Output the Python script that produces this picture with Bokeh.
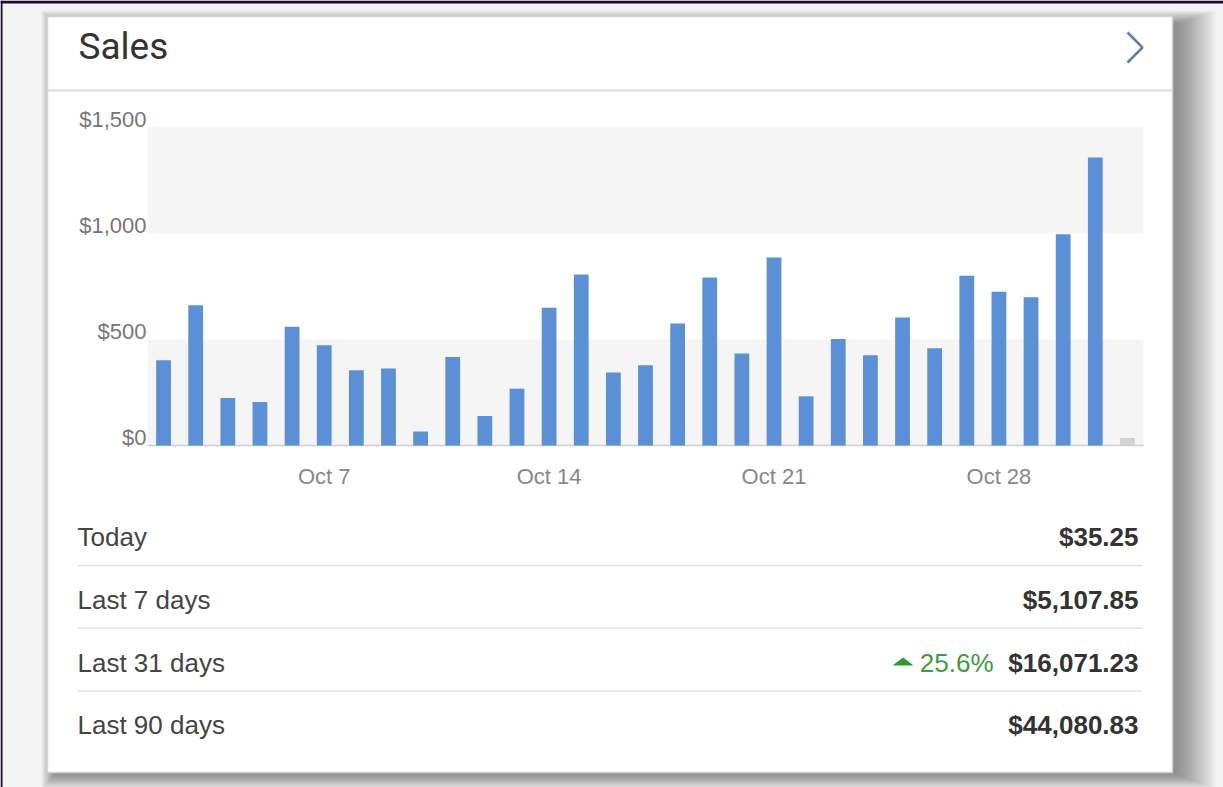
from bokeh.plotting import figure
from bokeh.models import Range1d
from bokeh.core.properties import value
from bokeh.embed import file_html
from bokeh.resources import INLINE

# ---------------- data ----------------
dates = ["Oct 2", "Oct 3", "Oct 4", "Oct 5", "Oct 6", "Oct 7", "Oct 8", "Oct 9", "Oct 10",
         "Oct 11", "Oct 12", "Oct 13", "Oct 14", "Oct 15", "Oct 16", "Oct 17", "Oct 18",
         "Oct 19", "Oct 20", "Oct 21", "Oct 22", "Oct 23", "Oct 24", "Oct 25", "Oct 26",
         "Oct 27", "Oct 28", "Oct 29", "Oct 30", "Oct 31", "Nov 1"]
day_num = [2, 3, 4, 5, 6, 7, 8, 9, 10, 11, 12, 13, 14, 15, 16, 17, 18, 19, 20, 21, 22,
           23, 24, 25, 26, 27, 28, 29, 30, 31, 32]
sales = [402, 662, 224, 205, 560, 473, 355, 363, 66, 418, 139, 268, 650, 807, 344, 379,
         576, 792, 434, 887, 232, 502, 426, 604, 459, 801, 725, 699, 997, 1359, 35.25]

y_ticks = [0, 500, 1000, 1500]
y_tick_labels = ["$0", "$500", "$1,000", "$1,500"]
x_ticks = [7, 14, 21, 28]
x_tick_labels = ["Oct 7", "Oct 14", "Oct 21", "Oct 28"]

title_text = "Sales"
stat_labels = ["Today", "Last 7 days", "Last 31 days", "Last 90 days"]
stat_values = ["$35.25", "$5,107.85", "$16,071.23", "$44,080.83"]
change_text = "25.6%"
change_row = 2

# ---------------- layout (pixels) ----------------
W, H = 1223, 787
PLOT_L, PLOT_R, PLOT_T, PLOT_B = 147, 1143, 127, 445
X0, X1 = 1.5, 32.5          # data extent of plot area
Y0, Y1 = 0, 1500
CARD_L, CARD_R, CARD_T, CARD_B = 47, 1172, 16, 772
ROW0, ROW_STEP = 536.5, 62.8

xs = (PLOT_R - PLOT_L) / (X1 - X0)
ys = (PLOT_B - PLOT_T) / (Y1 - Y0)
x_range = Range1d(X0 - PLOT_L / xs, X1 + (W - PLOT_R) / xs)
y_range = Range1d(Y0 - (H - PLOT_B) / ys, Y1 + PLOT_T / ys)

p = figure(width=W, height=H, x_range=x_range, y_range=y_range,
           output_backend="svg", toolbar_location=None, tools="",
           x_axis_location=None, y_axis_location=None, min_border=0,
           min_border_left=0, min_border_right=0, min_border_top=0, min_border_bottom=0,
           background_fill_color="#f3f3f3", border_fill_color="#f3f3f3",
           outline_line_color=None)
p.xgrid.visible = False
p.ygrid.visible = False
p.extra_x_ranges = {"px": Range1d(0, W)}
p.extra_y_ranges = {"px": Range1d(H, 0)}
PX = dict(x_range_name="px", y_range_name="px")

FONT = value("Liberation Sans")

# dark frame edges
p.quad(left=[0], right=[W], top=[0], bottom=[3], fill_color="#1e0b30", line_color=None, **PX)
p.quad(left=[0], right=[2], top=[0], bottom=[H], fill_color="#1e0b30", line_color=None, **PX)

# card shadow (mostly right / bottom)
for k in range(20):
    s = 2.0 * (k + 1)
    p.quad(left=[CARD_L + 8 - 0.35 * s], right=[CARD_R + 3 + s],
           top=[CARD_T + 8 - 0.35 * s], bottom=[CARD_B + 1 + 0.4 * s],
           fill_color="black", fill_alpha=0.024, line_color=None, **PX)

# card
p.quad(left=[CARD_L], right=[CARD_R], top=[CARD_T], bottom=[CARD_B],
       fill_color="white", line_color="#d4d4d4", line_width=1.5, **PX)
p.segment(x0=[CARD_L], x1=[CARD_R], y0=[90], y1=[90], line_color="#dcdcdc",
          line_width=2, **PX)

# header
p.text(x=[78], y=[46], text=[title_text], text_font=value("Roboto"),
       text_font_size="37px", text_color="#333333", text_align="left",
       text_baseline="middle", **PX)
p.line(x=[1127, 1142, 1127], y=[32, 47, 62], line_color="#5b7db8", line_width=2.5,
       **PX)

# chart bands (alternating)
p.quad(left=X0, right=X1, bottom=[y_ticks[0], y_ticks[2]], top=[y_ticks[1], y_ticks[3]],
       fill_color="#f5f5f5", line_color=None)
p.segment(x0=[X0], x1=[X1], y0=[0], y1=[0], line_color="#cfcfcf", line_width=1.5)

# bars
p.vbar(x=day_num[:-1], top=sales[:-1], bottom=0, width=0.46,
       fill_color="#5b8fd6", line_color=None)
p.vbar(x=day_num[-1:], top=sales[-1:], bottom=0, width=0.46,
       fill_color="#d2d2d2", line_color=None)

# tick labels
p.text(x=[X0] * len(y_ticks), y=y_ticks, text=y_tick_labels, text_font=FONT,
       text_font_size="22px", text_color="#777777", text_align="right",
       text_baseline="middle", x_offset=-1, y_offset=-8)
p.text(x=x_ticks, y=[0] * len(x_ticks), text=x_tick_labels, text_font=FONT,
       text_font_size="22px", text_color="#888888", text_align="center",
       text_baseline="middle", y_offset=31)

# stats rows
rows = [ROW0 + i * ROW_STEP for i in range(len(stat_labels))]
p.text(x=[77] * len(rows), y=rows, text=stat_labels, text_font=FONT,
       text_font_size="26px", text_color="#444444", text_align="left",
       text_baseline="middle", **PX)
p.text(x=[1138] * len(rows), y=rows, text=stat_values, text_font=FONT,
       text_font_size="26px", text_font_style="bold", text_color="#333333",
       text_align="right", text_baseline="middle", **PX)
seps = [r + 28.5 for r in rows[:-1]]
p.segment(x0=[77] * len(seps), x1=[1142] * len(seps), y0=seps, y1=seps,
          line_color="#e2e2e2", line_width=1.5, **PX)

cy = rows[change_row]
p.text(x=[993], y=[cy], text=[change_text], text_font=FONT, text_font_size="26px",
       text_color="#3d9c3d", text_align="right", text_baseline="middle", **PX)
p.patch(x=[892, 913, 902.5], y=[cy + 3, cy + 3, cy - 5], fill_color="#2e9a2e",
        line_color=None, **PX)

open("out.html", "w").write(file_html(p, INLINE))
